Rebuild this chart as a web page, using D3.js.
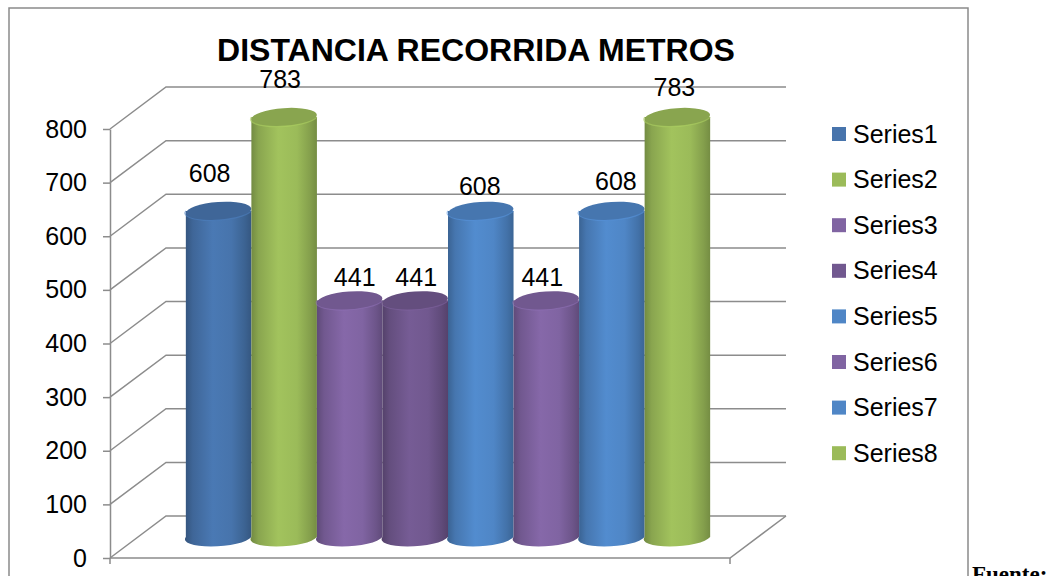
<!DOCTYPE html>
<html>
<head>
<meta charset="utf-8">
<script src="https://cdn.jsdelivr.net/npm/d3@7"></script>
<style>
  body { margin: 0; background: #fff; }
  svg { display: block; font-family: "Liberation Sans", Arial, sans-serif; }
</style>
</head>
<body>
<svg class="chart"></svg>
<script>
var seriesNames = ['Series1', 'Series2', 'Series3', 'Series4',
                   'Series5', 'Series6', 'Series7', 'Series8'];
var seriesValues = [608, 783, 441, 441, 608, 441, 608, 783];
var seriesColors = ['#4774AC', '#9BBB59', '#8064A2', '#71588F',
                    '#4F86C6', '#8064A2', '#4F86C6', '#9BBB59'];
var tickValues = [0, 100, 200, 300, 400, 500, 600, 700, 800];
var title = 'DISTANCIA RECORRIDA METROS';

// Excel placed the labels unevenly: nudge each one (px above bar top, px sideways)
var labelLift = [29, 29, 15, 15, 16, 15, 21, 21];
var labelShift = [-9, -4, 5, 1, -1, -4, 4, -3];

var width = 1054, height = 576;
var depth = {dx: 56, dy: -42};   // front plane -> back wall
var mid = {dx: 28, dy: -21};     // plane the cylinders stand on
var grid = '#8c8c8c';

var svg = d3.select('.chart').attr('width', width).attr('height', height);

var x = d3.scaleBand().domain(seriesNames)
    .range([110, 730]).paddingInner(0).paddingOuter(0.73);
var y = d3.scaleLinear().domain([0, 800]).range([558, 129]);

// outer frame
svg.append('rect')
    .attr('x', 9).attr('y', 8).attr('width', 959).attr('height', 600)
    .attr('fill', 'none').attr('stroke', '#8a8a8a').attr('stroke-width', 1.5);

// walls: diagonal ticks + back gridlines
var walls = svg.append('g').attr('stroke', grid).attr('stroke-width', 1.5).attr('fill', 'none');
tickValues.forEach(function(v) {
    var y0 = y(v);
    walls.append('path')
        .attr('d', 'M110,' + y0 + 'L' + (110 + depth.dx) + ',' + (y0 + depth.dy) +
                   'H' + (x.range()[1] + depth.dx));
});
// floor front + right edge
walls.append('path')
    .attr('d', 'M110,' + y(0) + 'H730L' + (730 + depth.dx) + ',' + (y(0) + depth.dy));
walls.append('path').attr('d', 'M110,' + y(0) + 'v6M730,' + y(0) + 'v6');

// value axis
var axis = svg.append('g').attr('transform', 'translate(110,0)')
    .call(d3.axisLeft(y).tickValues(tickValues).tickSize(7).tickSizeOuter(0).tickPadding(16));
axis.selectAll('path, line').attr('stroke', grid).attr('stroke-width', 1.5);
axis.selectAll('text').attr('fill', '#000').attr('font-size', 25)
    .attr('font-family', '"Liberation Sans", Arial, sans-serif');

// gradients for the cylinders
var defs = svg.append('defs');
seriesColors.forEach(function(c, i) {
    var base = d3.color(c);
    var g = defs.append('linearGradient').attr('id', 'cyl' + i)
        .attr('x1', '0%').attr('x2', '100%').attr('y1', '0%').attr('y2', '0%');
    [[0, base.darker(0.9)], [0.12, base.darker(0.35)], [0.42, base.brighter(0.12)],
     [0.7, base], [0.9, base.darker(0.45)], [1, base.darker(0.8)]].forEach(function(s) {
        g.append('stop').attr('offset', s[0]).attr('stop-color', s[1]);
    });
});

var rx = x.bandwidth() / 2, ry = 9, tilt = -4;
var bars = svg.append('g').selectAll('g')
    .data(seriesValues)
    .enter().append('g')
    .attr('transform', function(d, i) { return 'translate(' + (x(seriesNames[i]) + mid.dx) + ',' + mid.dy + ')'; });

bars.each(function(d, i) {
    var g = d3.select(this);
    var top = y(d), bot = y(0);
    var cx = rx;
    // body with rounded bottom
    g.append('path')
        .attr('d', 'M0,' + top + 'V' + bot +
                   'A' + rx + ',' + ry + ' ' + tilt + ' 0 0 ' + (2 * rx) + ',' + bot +
                   'V' + top + 'Z')
        .attr('fill', 'url(#cyl' + i + ')');
    g.append('ellipse')
        .attr('cx', cx).attr('cy', top).attr('rx', rx).attr('ry', ry)
        .attr('transform', 'rotate(' + tilt + ',' + cx + ',' + top + ')')
        .attr('fill', d3.color(seriesColors[i]).darker(0.35));
    g.append('path')
        .attr('d', 'M0,' + top + 'A' + rx + ',' + ry + ' ' + tilt + ' 0 0 ' + (2 * rx) + ',' + top)
        .attr('fill', 'none').attr('stroke', d3.color(seriesColors[i]).brighter(0.3))
        .attr('stroke-width', 1.2).attr('opacity', 0.6);
});

// data labels
bars.append('text')
    .attr('x', function(d, i) { return rx + labelShift[i]; })
    .attr('y', function(d, i) { return y(d) - labelLift[i]; })
    .attr('text-anchor', 'middle')
    .attr('font-size', 25)
    .text(function(d) { return d; });

// title
svg.append('text')
    .attr('x', 476).attr('y', 61)
    .attr('text-anchor', 'middle')
    .attr('font-size', 32).attr('font-weight', 'bold')
    .text(title);

// legend
var legend = svg.append('g').selectAll('g')
    .data(seriesNames)
    .enter().append('g')
    .attr('transform', function(d, i) { return 'translate(832,' + (127 + i * 45.6) + ')'; });
legend.append('rect').attr('width', 14).attr('height', 14)
    .attr('fill', function(d, i) { return seriesColors[i]; });
legend.append('text').attr('x', 21).attr('y', 15.5)
    .attr('font-size', 25)
    .text(function(d) { return d; });

// caption cut off under the chart
svg.append('text')
    .attr('x', 972).attr('y', 582)
    .attr('font-family', '"Liberation Serif", "Times New Roman", serif')
    .attr('font-size', 23).attr('font-weight', 'bold')
    .text('Fuente:');
</script>
</body>
</html>
